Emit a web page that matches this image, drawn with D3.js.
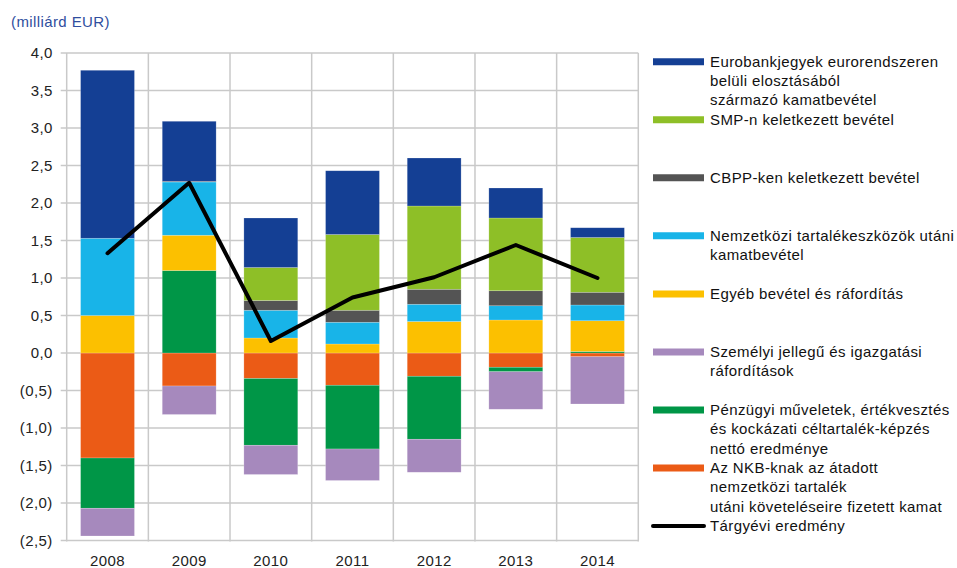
<!DOCTYPE html>
<html>
<head>
<meta charset="utf-8">
<script src="https://cdn.jsdelivr.net/npm/d3@7"></script>
<style>
  body { margin: 0; background: #fff; }
  text { font-family: "Liberation Sans", Arial, sans-serif; letter-spacing: 0.4px; }
</style>
</head>
<body>
<div id="wrapper"></div>
<script>
// data (milliárd EUR)
const years = ['2008', '2009', '2010', '2011', '2012', '2013', '2014'];

const nkb       = [-1.40, -0.44, -0.34, -0.43, -0.31, -0.19, -0.05];
const penzugyi  = [-0.67,  1.10, -0.89, -0.85, -0.84, -0.06,  0.02];
const szemelyi  = [-0.37, -0.38, -0.39, -0.42, -0.44, -0.50, -0.63];
const egyeb     = [ 0.50,  0.47,  0.20,  0.12,  0.42,  0.44,  0.41];
const nemzetkozi= [ 1.03,  0.71,  0.37,  0.29,  0.23,  0.19,  0.21];
const cbpp      = [ 0.00,  0.01,  0.13,  0.16,  0.20,  0.20,  0.17];
const smp       = [ 0.00,  0.00,  0.44,  1.01,  1.11,  0.97,  0.73];
const eurobank  = [ 2.24,  0.80,  0.66,  0.85,  0.64,  0.40,  0.13];

const eredmeny  = [1.33, 2.27, 0.16, 0.74, 1.01, 1.44, 1.00];

const yTicks = [-2.5, -2, -1.5, -1, -0.5, 0, 0.5, 1, 1.5, 2, 2.5, 3, 3.5, 4];

// series in stacking order (bottom first)
const series = [
  { key: 'nkb', values: nkb, color: '#EB5B16',
    label: ['Az NKB-knak az átadott', 'nemzetközi tartalék', 'utáni követeléseire fizetett kamat'] },
  { key: 'penzugyi', values: penzugyi, color: '#009647',
    label: ['Pénzügyi műveletek, értékvesztés', 'és kockázati céltartalék-képzés', 'nettó eredménye'] },
  { key: 'szemelyi', values: szemelyi, color: '#A689BD',
    label: ['Személyi jellegű és igazgatási', 'ráfordítások'] },
  { key: 'egyeb', values: egyeb, color: '#FCC000',
    label: ['Egyéb bevétel és ráfordítás'] },
  { key: 'nemzetkozi', values: nemzetkozi, color: '#18B4E8',
    label: ['Nemzetközi tartalékeszközök utáni', 'kamatbevétel'] },
  { key: 'cbpp', values: cbpp, color: '#545454',
    label: ['CBPP-ken keletkezett bevétel'] },
  { key: 'smp', values: smp, color: '#8EBF27',
    label: ['SMP-n keletkezett bevétel'] },
  { key: 'eurobank', values: eurobank, color: '#143F94',
    label: ['Eurobankjegyek eurorendszeren', 'belüli elosztásából', 'származó kamatbevétel'] },
];

const dims = { width: 957, height: 568, left: 66.7, right: 638.3, top: 53, bottom: 540.5 };

const svg = d3.select('#wrapper').append('svg')
  .attr('width', dims.width)
  .attr('height', dims.height);

const xScale = d3.scaleBand()
  .domain(years)
  .range([dims.left, dims.right])
  .paddingInner(0.34)
  .paddingOuter(0.17);

const yScale = d3.scaleLinear()
  .domain([-2.5, 4])
  .range([dims.bottom, dims.top]);

// gridlines
const grid = svg.append('g');
grid.selectAll('line.h').data(yTicks).join('line')
  .attr('x1', dims.left - 6).attr('x2', dims.right)
  .attr('y1', d => yScale(d)).attr('y2', d => yScale(d))
  .attr('stroke', '#C9C9C9').attr('stroke-width', 1.5);

const step = xScale.step();
const bounds = d3.range(years.length + 1).map(i => dims.left + i * step);
grid.selectAll('line.v').data(bounds).join('line')
  .attr('x1', d => d).attr('x2', d => d)
  .attr('y1', dims.top).attr('y2', dims.bottom + 1)
  .attr('stroke', '#C9C9C9').attr('stroke-width', 1.5);

// stacking
const table = years.map((y, i) => {
  const row = { year: y };
  series.forEach(s => { row[s.key] = s.values[i]; });
  return row;
});
const stacked = d3.stack()
  .keys(series.map(s => s.key))
  .offset(d3.stackOffsetDiverging)(table);

svg.append('g').selectAll('g').data(stacked).join('g')
  .attr('fill', (d, i) => series[i].color)
  .selectAll('rect').data(d => d).join('rect')
  .attr('x', d => xScale(d.data.year))
  .attr('width', xScale.bandwidth())
  .attr('y', d => yScale(Math.max(d[0], d[1])))
  .attr('height', d => Math.abs(yScale(d[0]) - yScale(d[1])))
  .attr('stroke', 'rgba(255,255,255,0.35)')
  .attr('stroke-width', 0.6);

// result line
const line = d3.line()
  .x((d, i) => xScale(years[i]) + xScale.bandwidth() / 2)
  .y(d => yScale(d));
svg.append('path')
  .datum(eredmeny)
  .attr('d', line)
  .attr('fill', 'none')
  .attr('stroke', '#000')
  .attr('stroke-width', 4)
  .attr('stroke-linejoin', 'round')
  .attr('stroke-linecap', 'round');

// axes
const fmt = v => d3.format('.1f')(v).replace('.', ',');
const yAxis = d3.axisLeft(yScale).tickValues(yTicks).tickSize(0).tickPadding(14)
  .tickFormat(d => d < 0 ? `(${fmt(-d)})` : fmt(d));
svg.append('g')
  .attr('transform', `translate(${dims.left},0)`)
  .call(yAxis)
  .call(g => g.select('.domain').remove())
  .selectAll('text')
  .attr('font-size', 15)
  .attr('fill', '#222');

const xAxis = d3.axisBottom(xScale).tickSize(0).tickPadding(15);
svg.append('g')
  .attr('transform', `translate(0,${dims.bottom})`)
  .call(xAxis)
  .call(g => g.select('.domain').remove())
  .selectAll('text')
  .attr('font-size', 15)
  .attr('fill', '#222');

// unit title
svg.append('text')
  .attr('x', 11).attr('y', 27)
  .attr('font-size', 15)
  .attr('fill', '#2F4E9E')
  .text('(milliárd EUR)');

// legend (top of stack first)
const legendItems = series.slice().reverse().map(s => ({ color: s.color, label: s.label, type: 'bar' }));
legendItems.push({ color: '#000', label: ['Tárgyévi eredmény'], type: 'line' });

const legend = svg.append('g');
const lg = legend.selectAll('g').data(legendItems).join('g')
  .attr('transform', (d, i) => `translate(653, ${61.7 + i * 58.05})`);

lg.append('line')
  .attr('x1', 0)
  .attr('x2', 51)
  .attr('stroke', d => d.color)
  .attr('stroke-width', d => d.type === 'line' ? 4 : 7)
  .attr('stroke-linecap', d => d.type === 'line' ? 'round' : 'butt');

lg.append('text')
  .attr('x', 57)
  .attr('font-size', 15)
  .attr('fill', '#111')
  .selectAll('tspan').data(d => d.label).join('tspan')
  .attr('x', 57)
  .attr('y', (d, i) => 5 + i * 19.3)
  .text(d => d);
</script>
</body>
</html>
